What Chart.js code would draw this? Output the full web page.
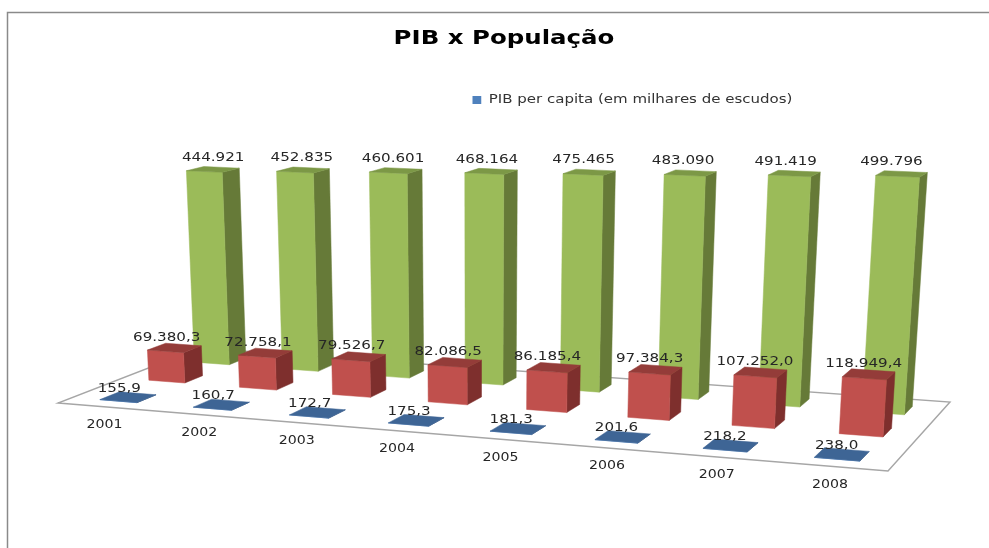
<!DOCTYPE html>
<html lang="pt">
<head>
<meta charset="utf-8">
<title>PIB x População</title>
<style>html,body{margin:0;padding:0;background:#fff}canvas{display:block}</style>
<script src="https://cdn.jsdelivr.net/npm/chart.js@4"></script>
</head>
<body>
<canvas id="c" width="989" height="548"></canvas>
<script>
// ---- data ----
const anos = ['2001','2002','2003','2004','2005','2006','2007','2008'];
const pibPerCapita = [155.9,160.7,172.7,175.3,181.3,201.6,218.2,238.0];
const pib = [69380.3,72758.1,79526.7,82086.5,86185.4,97384.3,107252.0,118949.4];
const populacao = [444921,452835,460601,468164,475465,483090,491419,499796];
const tituloGrafico = 'PIB x População';
const nomePerCapita = 'PIB per capita (em milhares de escudos)';
const nomePib = 'PIB';
const nomePopulacao = 'População';

// ---- camera: floor quad plus vertical vanishing point ----
const FLOOR = {A:[58,403],B:[888,471],C:[950,402],D:[200,348]};
const VANISH = [478,7150], KAPPA = -0.0334;
const STRETCH = 1.26;
const DEPTH_HALF = 0.065;
function makeCamera(q){
  const {A,B,C,D}=q;
  const d1x=B[0]-C[0],d1y=B[1]-C[1],d2x=D[0]-C[0],d2y=D[1]-C[1];
  const sx=A[0]-B[0]+C[0]-D[0],sy=A[1]-B[1]+C[1]-D[1];
  const det=d1x*d2y-d2x*d1y;
  const g=(sx*d2y-d2x*sy)/det,h=(d1x*sy-sx*d1y)/det;
  const a=(g+1)*B[0]-A[0],b=(h+1)*D[0]-A[0],d=(g+1)*B[1]-A[1],e=(h+1)*D[1]-A[1];
  return (s,t,z=0)=>{
    const w=1+g*s+h*t, nx=a*s+b*t+A[0], ny=d*s+e*t+A[1], kz=KAPPA*z;
    return [(nx+kz*VANISH[0])/(w+kz),(ny+kz*VANISH[1])/(w+kz)];
  };
}
const project = makeCamera(FLOOR);
const nf = (v,dec)=>new Intl.NumberFormat('de-DE',{minimumFractionDigits:dec,maximumFractionDigits:dec}).format(v);

function poly(ctx,pts,fill){
  ctx.beginPath();
  pts.forEach((p,i)=>i?ctx.lineTo(p[0],p[1]):ctx.moveTo(p[0],p[1]));
  ctx.closePath();
  ctx.fillStyle=fill;ctx.fill();
  ctx.strokeStyle=fill;ctx.lineWidth=0.5;ctx.stroke();
}
function stretchedText(ctx,text,x,y,font,k,color){
  ctx.save();
  ctx.translate(x,y);ctx.scale(k,1);
  ctx.font=font;ctx.fillStyle=color;ctx.textAlign='center';ctx.textBaseline='middle';
  ctx.fillText(text,0,0);
  ctx.restore();
}

const scene = {
  id:'scene',
  afterLayout(chart){
    // wide, low lettering of the reference: stretch title and legend
    const t=chart.titleBlock,l=chart.legend,ctx=chart.ctx;
    if(!t._wrapped){
      const td=t.draw;
      t.draw=function(){
        const cx=(t.left+t.right)/2;
        ctx.save();ctx.translate(cx,0);ctx.scale(1.254,1);ctx.translate(-cx,0);td.call(t);ctx.restore();
      };
      t._wrapped=true;
    }
    if(!l._wrapped){
      const ld=l.draw;
      l.draw=function(){
        ctx.save();
        ctx.translate(472.5-1.25*(l.left+l.options.labels.padding),101-(l.top+l.height/2));
        ctx.scale(1.25,1);ld.call(l);ctx.restore();
      };
      l._wrapped=true;
    }
  },
  beforeDraw(chart){
    const ctx=chart.ctx;
    ctx.save();
    ctx.strokeStyle='#8a8a8a';ctx.lineWidth=1.5;
    ctx.beginPath();ctx.moveTo(7.5,548);ctx.lineTo(7.5,12.5);ctx.lineTo(989,12.5);ctx.stroke();
    ctx.restore();
  },
  beforeDatasetsDraw(chart){
    const ctx=chart.ctx;
    const pts=[[0,0],[1,0],[1,1],[0,1]].map(p=>project(p[0],p[1]));
    ctx.save();
    ctx.beginPath();
    pts.forEach((p,i)=>i?ctx.lineTo(p[0],p[1]):ctx.moveTo(p[0],p[1]));
    ctx.closePath();
    ctx.fillStyle='#fff';ctx.fill();
    ctx.strokeStyle='#a6a6a6';ctx.lineWidth=1.4;ctx.stroke();
    ctx.restore();
  },
  beforeDatasetDraw(){ return false; },
  afterDatasetsDraw(chart){
    const ctx=chart.ctx,area=chart.chartArea;
    const sets=chart.data.datasets;
    const order=sets.map((_,i)=>i).sort((a,b)=>sets[b].row-sets[a].row);
    ctx.save();
    order.forEach(i=>{
      const ds=sets[i],meta=chart.getDatasetMeta(i);
      const tc=(ds.row+0.5)/3-0.01,t0=tc-DEPTH_HALF,t1=tc+DEPTH_HALF;
      meta.data.forEach(el=>{
        const sc=(el.x-area.left)/area.width,hw=el.width/2/area.width;
        const z=(el.base-el.y)/(el.base-area.top);
        const s0=sc-hw,s1=sc+hw;
        poly(ctx,[project(s1,t0,0),project(s1,t1,0),project(s1,t1,z),project(s1,t0,z)],ds.sideColor);
        poly(ctx,[project(s0,t0,0),project(s1,t0,0),project(s1,t0,z),project(s0,t0,z)],ds.backgroundColor);
        poly(ctx,[project(s0,t0,z),project(s1,t0,z),project(s1,t1,z),project(s0,t1,z)],ds.topColor);
      });
    });
    // value labels
    order.forEach(i=>{
      const ds=sets[i],meta=chart.getDatasetMeta(i);
      const tc=(ds.row+0.5)/3-0.01;
      meta.data.forEach((el,j)=>{
        const sc=(el.x-area.left)/area.width;
        const z=(el.base-el.y)/(el.base-area.top);
        const p=project(sc,tc,z);
        const dx=ds.labelDx[0]+(ds.labelDx[1]-ds.labelDx[0])*sc;
        stretchedText(ctx,nf(ds.data[j],ds.decimals),p[0]+dx,p[1]+ds.labelDy,'12px "DejaVu Sans"',STRETCH,'#262626');
      });
    });
    // category labels follow the slanted front edge of the floor
    const xs=chart.scales.x;
    chart.data.labels.forEach((lab,j)=>{
      const p=project((xs.getPixelForValue(j)-area.left)/area.width,0);
      stretchedText(ctx,xs.getLabelForValue(j),p[0],p[1]+18.5,'11.5px "DejaVu Sans"',1.23,'#262626');
    });
    ctx.restore();
  }
};

new Chart(document.getElementById('c'),{
  type:'bar',
  data:{
    labels:anos,
    datasets:[
      {label:nomePerCapita,data:pibPerCapita,backgroundColor:'#4F81BD',sideColor:'#2f4f78',topColor:'#3E6595',row:0,decimals:1,labelDx:[-9,-5],labelDy:-8.5},
      {label:nomePib,data:pib,backgroundColor:'#C0504D',sideColor:'#7E2F2D',topColor:'#943C39',row:1,decimals:1,labelDx:[-8,-5],labelDy:-10.5},
      {label:nomePopulacao,data:populacao,backgroundColor:'#9BBB59',sideColor:'#667A38',topColor:'#7C9846',row:2,decimals:0,labelDx:[1,-11],labelDy:-12}
    ]
  },
  options:{
    responsive:false,
    animation:false,
    layout:{padding:{left:58,right:39,top:27.5,bottom:78}},
    datasets:{bar:{grouped:false,barPercentage:0.4,categoryPercentage:1}},
    scales:{
      x:{display:false},
      y:{display:false,min:0,max:500000}
    },
    plugins:{
      title:{display:true,text:tituloGrafico,color:'#000',font:{family:'"DejaVu Sans"',size:19.5,weight:'bold'},padding:{top:0,bottom:60}},
      legend:{
        display:true,position:'top',align:'start',
        labels:{
          font:{family:'"DejaVu Sans"',size:12},color:'#333',boxWidth:7,boxHeight:8,padding:8,
          filter:item=>item.datasetIndex===0
        }
      },
      tooltip:{enabled:false}
    }
  },
  plugins:[scene]
});
</script>
</body>
</html>
